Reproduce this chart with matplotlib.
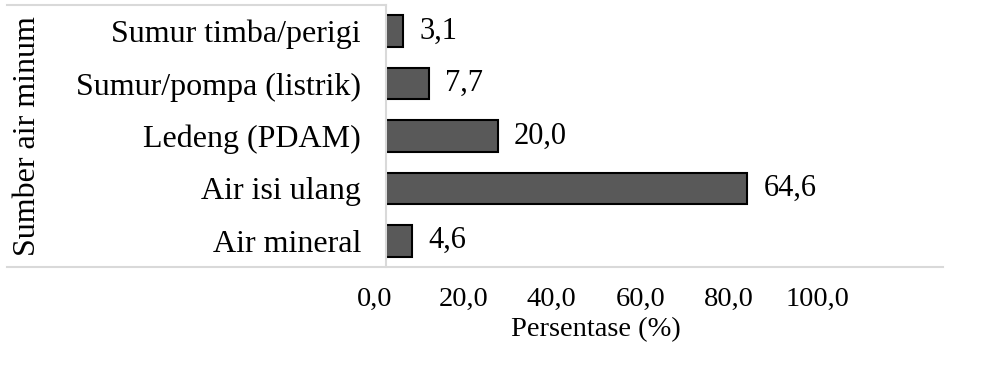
import matplotlib
matplotlib.use('Agg')
import matplotlib.pyplot as plt
from matplotlib.lines import Line2D

plt.rcParams['font.family'] = ['Liberation Serif', 'DejaVu Serif']

# Sumber air minum (bottom to top)
categories = ['Air mineral', 'Air isi ulang', 'Ledeng (PDAM)',
              'Sumur/pompa (listrik)', 'Sumur timba/perigi']
values = [4.6, 64.6, 20.0, 7.7, 3.1]
tick_values = [0, 20, 40, 60, 80, 100]

W, H = 986, 372
fig = plt.figure(figsize=(W / 100, H / 100), dpi=100)

def fx(px):
    return px / W

def fy(px):
    return 1 - px / H

# bars
ax = fig.add_axes([fx(386), fy(267), fx(945) - fx(386), fy(5) - fy(267)])
ypos = list(range(len(categories)))
bars = ax.barh(ypos, values, height=0.6, color='#595959',
               edgecolor='black', linewidth=1.5)
ax.set_xlim(0, 100)
ax.set_ylim(-0.5, len(categories) - 0.5)
ax.set_yticks(ypos)
ax.set_yticklabels(categories, fontsize=23)
ax.tick_params(axis='y', length=0, pad=18)
ax.set_xticks([])
for s in ['top', 'right', 'bottom']:
    ax.spines[s].set_visible(False)
ax.spines['left'].set_color('#d9d9d9')
ax.spines['left'].set_linewidth(1.5)

for b, v in zip(bars, values):
    ax.text(b.get_width() + 2.9, b.get_y() + b.get_height() / 2,
            f'{v:.1f}'.replace('.', ','), va='center', ha='left', fontsize=22)

ax.set_ylabel('Sumber air minum', fontsize=23)
ax.yaxis.set_label_coords(fx(42 - 386) / (fx(945) - fx(386)), 0.5)

# tick labels and axis title
tax = fig.add_axes([fx(375), fy(267), fx(817) - fx(375), 0.0001])
tax.set_xlim(0, 100)
tax.set_xticks(tick_values)
tax.set_xticklabels([f'{t:.1f}'.replace('.', ',') for t in tick_values],
                    fontsize=20.5)
tax.tick_params(axis='x', length=0, pad=14)
tax.set_yticks([])
for s in tax.spines.values():
    s.set_visible(False)
tax.patch.set_visible(False)
tax.set_xlabel('Persentase (%)', fontsize=20.5, labelpad=4)

# frame lines around the label area
grey = dict(color='#d9d9d9', linewidth=1.5, transform=fig.transFigure)
fig.add_artist(Line2D([fx(7), fx(386)], [fy(5), fy(5)], **grey))
fig.add_artist(Line2D([fx(7), fx(943)], [fy(267), fy(267)], **grey))

fig.savefig('out.png', dpi=100)
